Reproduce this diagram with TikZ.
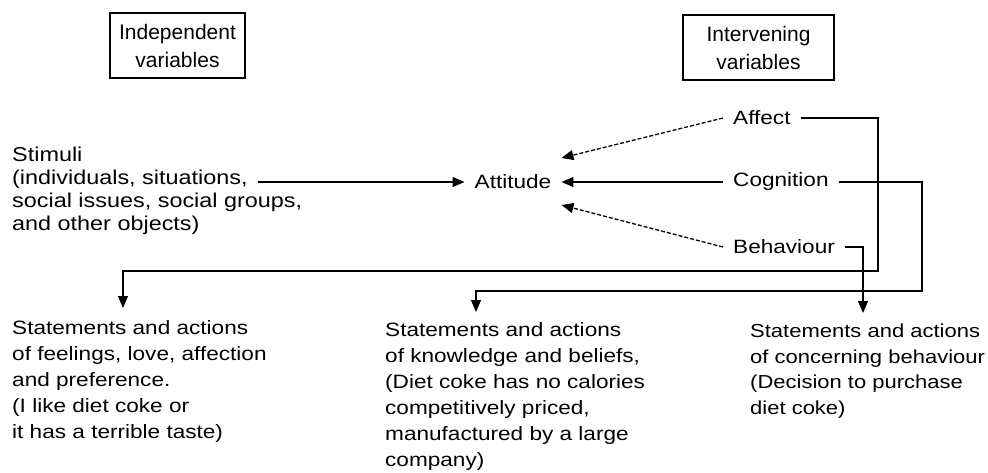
\documentclass[tikz,border=0pt]{standalone}
\usepackage{fontspec}
\setmainfont{Liberation Sans}[FakeStretch=1.17]
\newfontfamily\headfont{Liberation Sans}
\usetikzlibrary{positioning, arrows.meta}

\begin{document}
\begin{tikzpicture}[x=1pt, y=-1pt,
    varbox/.style={draw=black, line width=1.2pt, rectangle, minimum height=65pt, align=center, inner sep=2pt, font=\headfont\fontsize{21}{28}\selectfont},
    plain/.style={align=left, inner sep=0pt, anchor=north west, font=\fontsize{19.3}{26}\selectfont},
    factor/.style={anchor=west, inner xsep=10pt, inner ysep=2pt, font=\fontsize{19.3}{26}\selectfont},
    >={Triangle[length=12pt, width=10pt]},
    line/.style={draw=black, line width=1.3pt},
    rel/.style={line, dash pattern=on 4pt off 2pt, ->},
]
\useasboundingbox (0,0) rectangle (988,472);
\node[varbox, minimum width=135pt] (indep)  at (177.5, 45.5) {Independent\\variables};
\node[varbox, minimum width=151pt] (interv) at (758.5, 47.5) {Intervening\\variables};
\node[plain, font=\fontsize{20}{23}\selectfont] (stimuli) at (12, 147)
    {Stimuli\\(individuals, situations,\\social issues, social groups,\\and other objects)};
\node[font=\fontsize{19.3}{26}\selectfont, inner xsep=10pt] (attitude) at (513, 182) {Attitude};
\node[factor] (affect)    at (723, 118) {Affect};
\node[factor] (cognition) at (723, 182) {Cognition};
\node[factor] (behaviour) at (723, 247) {Behaviour};
\node[plain] (feeling)   at (12, 320)
    {Statements and actions\\of feelings, love, affection\\and preference.\\(I like diet coke or\\it has a terrible taste)};
\node[plain] (knowledge) at (385, 322)
    {Statements and actions\\of knowledge and beliefs,\\(Diet coke has no calories\\competitively priced,\\manufactured by a large\\company)};
\node[plain, font=\fontsize{18.8}{25.5}\selectfont] (conduct) at (750, 324)
    {Statements and actions\\of concerning behaviour\\(Decision to purchase\\diet coke)};
\coordinate (stimout) at (258, 182);
\coordinate (affturn) at (878, 271);
\coordinate (affdrop) at (123, 271);
\coordinate (cogturn) at (922, 291);
\coordinate (cogdrop) at (476, 291);
\coordinate (behdrop) at (863, 252);
\draw[line, ->] (stimout) -- (attitude.west);
\draw[rel] (affect.west) -- ([yshift=24pt]attitude.east);
\draw[line, ->] (cognition.west) -- (attitude.east);
\draw[rel] (behaviour.west) -- ([yshift=-23pt]attitude.east);
\draw[line, ->, shorten >=12pt] (affect.east) -| (affturn) -- (affdrop) -- (affdrop |- feeling.north);
\draw[line, ->, shorten >=10pt] (cognition.east) -| (cogturn) -- (cogdrop) -- (cogdrop |- knowledge.north);
\draw[line, ->, shorten >=11pt] (behaviour.east) -| (behdrop |- conduct.north);
\end{tikzpicture}
\end{document}
